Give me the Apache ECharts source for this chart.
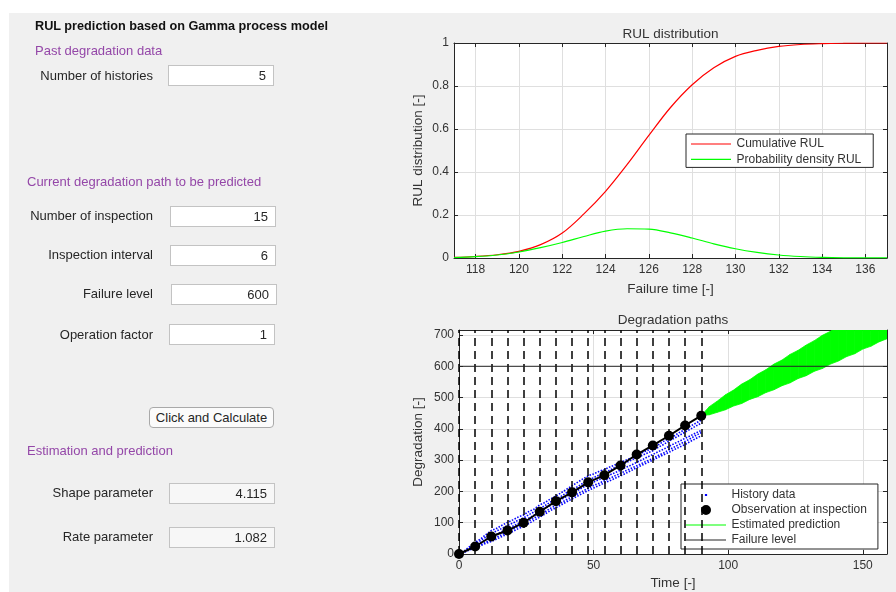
<!DOCTYPE html>
<html><head><meta charset="utf-8">
<script src="https://cdn.jsdelivr.net/npm/echarts@6/dist/echarts.min.js"></script>
<style>
html,body{margin:0;padding:0;background:#fff;width:896px;height:592px;overflow:hidden;font-family:'Liberation Sans',Arial,sans-serif;}
#panel{position:absolute;left:9px;top:13px;width:887px;height:579px;background:#f0f0f0;}
#chart{position:absolute;left:0;top:0;width:896px;height:592px;}
.t{position:absolute;font-size:13px;color:#262626;white-space:nowrap;line-height:16px;height:16px;}
.lab{left:0;width:153px;text-align:right;}
.pur{color:#9447a8;}
.box{position:absolute;box-sizing:border-box;width:106px;height:21px;background:#fff;border:1px solid #c3c3c3;font-size:13px;line-height:19px;text-align:right;padding-right:7px;color:#262626;}
.dis{background:#f7f7f7;}
.btn{position:absolute;box-sizing:border-box;left:149px;top:407px;width:125px;height:21px;border:1px solid #a9a9a9;border-radius:4px;background:#fbfbfb;font-size:13px;line-height:19px;text-align:center;color:#262626;}
</style>
</head>
<body>
<div id="panel"></div>
<div id="chart"></div>
<div class="t" style="left:35px;top:18px;font-weight:bold;font-size:12.7px;color:#111;">RUL prediction based on Gamma process model</div>
<div class="t pur" style="left:35px;top:43px;">Past degradation data</div>
<div class="t lab" style="top:68px;">Number of histories</div>
<div class="box" style="left:168px;top:65px;">5</div>
<div class="t pur" style="left:27px;top:174px;">Current degradation path to be predicted</div>
<div class="t lab" style="top:208px;">Number of inspection</div>
<div class="box" style="left:170px;top:206px;">15</div>
<div class="t lab" style="top:247px;">Inspection interval</div>
<div class="box" style="left:170px;top:245px;">6</div>
<div class="t lab" style="top:286px;">Failure level</div>
<div class="box" style="left:171px;top:284px;">600</div>
<div class="t lab" style="top:327px;">Operation factor</div>
<div class="box" style="left:169px;top:324px;">1</div>
<div class="btn">Click and Calculate</div>
<div class="t pur" style="left:27px;top:443px;">Estimation and prediction</div>
<div class="t lab" style="top:485px;">Shape parameter</div>
<div class="box dis" style="left:169px;top:483px;">4.115</div>
<div class="t lab" style="top:529px;">Rate parameter</div>
<div class="box dis" style="left:169px;top:527px;">1.082</div>
<script>
// ---- RUL distribution data ----
const failureTime = [117,118,119,120,121,122,123,124,125,126,127,128,129,130,131,132,133,134,135,136,137];
const cumulativeRUL = [0.003,0.007,0.015,0.031,0.062,0.116,0.205,0.31,0.435,0.57,0.70,0.806,0.885,0.938,0.966,0.984,0.993,0.997,0.999,1.0,1.0];
const densityRUL = [0.002,0.006,0.014,0.028,0.048,0.072,0.100,0.125,0.136,0.134,0.117,0.093,0.066,0.043,0.026,0.014,0.007,0.003,0.001,0.0005,0.0002];

// ---- Degradation paths data ----
const historyTime = [0,2,4,6,8,10,12,14,16,18,20,22,24,26,28,30,32,34,36,38,40,42,44,46,48,50,52,54,56,58,60,62,64,66,68,70,72,74,76,78,80,82,84,86,88,90];
const history1 = [0,10,24,37,48,62,75,82,92,101,109,118,125,136,144,157,165,176,185,196,207,218,229,240,250,256,264,270,278,285,292,300,307,316,324,331,340,349,360,369,378,389,398,409,418,428];
const history2 = [0,9,20,31,43,54,65,74,82,91,99,108,115,126,135,145,155,166,175,185,196,205,215,226,235,244,252,260,268,277,285,292,300,308,315,323,330,341,350,361,370,380,390,399,409,418];
const history3 = [0,8,17,27,36,46,55,63,72,80,89,97,105,115,125,134,146,155,165,174,184,193,203,213,222,230,238,245,253,260,268,277,284,293,301,310,318,327,335,344,353,361,370,378,387,395];
const history4 = [0,7,14,22,30,38,45,54,62,71,79,88,95,106,115,126,135,146,155,164,174,183,192,201,210,219,226,234,242,250,258,266,274,282,290,298,305,315,323,333,342,351,360,369,379,388];
const history5 = [0,6,13,20,27,34,40,48,56,64,72,81,88,98,108,118,128,139,148,157,167,176,185,194,203,211,219,227,234,242,250,258,267,276,284,292,300,309,317,325,334,342,350,360,369,378];
const inspectionTime = [0,6,12,18,24,30,36,42,48,54,60,66,72,78,84,90];
const observation = [0,24,56,75,100,135,169,197,229,252,283,318,347,378,411,442];
const predTime = [90,93,96,99,102,105,108,111,114,117,120,123,126,129,132,135,138,141,144,147,150,153,156,159];
const predUpper = [443,471,489,509,524,543,557,575,589,607,620,638,651,668,682,699,712,729,742,759,772,788,801,818];
const predLower = [443,445,453,461,473,481,494,503,516,525,538,547,561,570,584,593,607,617,631,640,655,664,678,688];
const failureLevel = 600;
const timeRange = [0, 159];

const FONT = "'Liberation Sans', Arial, sans-serif";
const AX = '#262626';
const GRIDC = '#dfdfdf';

function pairs(xs, ys){ return xs.map((x,i)=>[x, ys[i]]); }

function mainX(gi, min, max, opts){
  return Object.assign({
    type:'value', gridIndex:gi, min:min, max:max, position:'bottom',
    axisLine:{show:true, onZero:false, lineStyle:{color:AX, width:1}},
    axisTick:{show:true, inside:true, length:4, lineStyle:{color:AX}},
    axisLabel:{color:'#333', fontSize:12, fontFamily:FONT, margin:6, showMinLabel:true, showMaxLabel:false},
    splitLine:{show:true, lineStyle:{color:GRIDC, width:1}},
    nameLocation:'middle', nameTextStyle:{color:'#333', fontSize:13.5, fontFamily:FONT}
  }, opts);
}
function mainY(gi, min, max, opts){
  return Object.assign({
    type:'value', gridIndex:gi, min:min, max:max, position:'left',
    axisLine:{show:true, onZero:false, lineStyle:{color:AX, width:1}},
    axisTick:{show:true, inside:true, length:4, lineStyle:{color:AX}},
    axisLabel:{color:'#333', fontSize:12, fontFamily:FONT, margin:5, showMaxLabel:false},
    splitLine:{show:true, lineStyle:{color:GRIDC, width:1}},
    nameLocation:'middle', nameRotate:90, nameTextStyle:{color:'#333', fontSize:13.5, fontFamily:FONT}
  }, opts);
}
function boxAxis(gi, min, max, pos, opts){
  return Object.assign({
    type:'value', gridIndex:gi, min:min, max:max, position:pos,
    axisLine:{show:true, onZero:false, lineStyle:{color:AX, width:1}},
    axisTick:{show:true, inside:true, length:4, lineStyle:{color:AX}},
    axisLabel:{show:false}, splitLine:{show:false}
  }, opts);
}

const legendText = {fontSize:12, color:'#333', fontFamily:FONT};
const CORNERS = 'M0,0L0.01,0M40,0L40.01,0M0,10L0.01,10M40,10L40.01,10';
const lineIcon = 'path://' + CORNERS + 'M0,4.4L40,4.4L40,5.6L0,5.6Z';
const smallDot = 'path://' + CORNERS + 'M18.9,3.9L21.1,3.9L21.1,6.1L18.9,6.1Z';
const bigDot = 'path://' + CORNERS + 'M25,5A5,5,0,1,1,15,5A5,5,0,1,1,25,5Z';

const historySeries = [history1,history2,history3,history4,history5].map(h=>({
  name:'History data', type:'line', xAxisIndex:2, yAxisIndex:2,
  data: pairs(historyTime, h), symbol:'none',
  lineStyle:{color:'#0000ff', width:1.6, type:[1.5,1.5]}, itemStyle:{color:'#0000ff'}, z:3
}));

const option = {
  animation:false,
  backgroundColor:'transparent',
  textStyle:{fontFamily:FONT},
  title:[
    {text:'RUL distribution', left:670.5, top:27, textAlign:'center', padding:0,
     textStyle:{fontSize:13.5, fontWeight:'normal', color:'#333', fontFamily:FONT}},
    {text:'Degradation paths', left:673, top:313, textAlign:'center', padding:0,
     textStyle:{fontSize:13.5, fontWeight:'normal', color:'#333', fontFamily:FONT}}
  ],
  grid:[
    {left:454, top:43, width:433, height:215, show:true, backgroundColor:'#fff', borderWidth:0, containLabel:false},
    {left:459, top:330, width:428, height:224, show:true, backgroundColor:'#fff', borderWidth:0, containLabel:false}
  ],
  xAxis:[
    mainX(0, 117, 137, {splitNumber:10, name:'Failure time [-]', nameGap:24,
      axisLabel:{color:'#333', fontSize:12, fontFamily:FONT, margin:6, showMinLabel:false, showMaxLabel:false}}),
    boxAxis(0, 117, 137, 'top', {splitNumber:10}),
    mainX(1, timeRange[0], timeRange[1], {interval:50, name:'Time [-]', nameGap:22}),
    boxAxis(1, timeRange[0], timeRange[1], 'top', {interval:50})
  ],
  yAxis:[
    mainY(0, 0, 1, {interval:0.2, name:'RUL distribution [-]', nameGap:29,
      axisLabel:{color:'#333', fontSize:12, fontFamily:FONT, margin:5}}),
    boxAxis(0, 0, 1, 'right', {interval:0.2}),
    mainY(1, 0, 716, {interval:100, name:'Degradation [-]', nameGap:34}),
    boxAxis(1, 0, 716, 'right', {interval:100})
  ],
  legend:[
    {orient:'vertical', left:686, top:134, padding:[4,12,2,5], itemGap:3.4, itemWidth:41, itemHeight:10,
     backgroundColor:'#fff', borderColor:AX, borderWidth:1, borderRadius:0, selectedMode:false,
     textStyle:legendText,
     data:[
       {name:'Cumulative RUL', icon:lineIcon, itemStyle:{color:'#ff0000', borderWidth:0}},
       {name:'Probability density RUL', icon:lineIcon, itemStyle:{color:'#00ff00', borderWidth:0}}
     ]},
    {orient:'vertical', left:681, top:484, padding:[5,11,3,5], itemGap:3, itemWidth:41, itemHeight:10,
     backgroundColor:'#fff', borderColor:AX, borderWidth:1, borderRadius:0, selectedMode:false,
     textStyle:legendText,
     data:[
       {name:'History data', icon:smallDot, itemStyle:{color:'#0000ff', borderWidth:0}},
       {name:'Observation at inspection', icon:bigDot, itemStyle:{color:'#000', borderWidth:0}},
       {name:'Estimated prediction', icon:lineIcon, itemStyle:{color:'#00ff00', borderWidth:0}},
       {name:'Failure level', icon:lineIcon, itemStyle:{color:'#262626', borderWidth:0}}
     ]}
  ],
  series:[
    {name:'Cumulative RUL', type:'line', xAxisIndex:0, yAxisIndex:0, data:pairs(failureTime, cumulativeRUL),
     symbol:'none', smooth:0.35, lineStyle:{color:'#ff0000', width:1.2}, itemStyle:{color:'#ff0000'}},
    {name:'Probability density RUL', type:'line', xAxisIndex:0, yAxisIndex:0, data:pairs(failureTime, densityRUL),
     symbol:'none', smooth:0.35, lineStyle:{color:'#00ff00', width:1.2}, itemStyle:{color:'#00ff00'}},
    ...historySeries,
    {name:'Estimated prediction', type:'custom', xAxisIndex:2, yAxisIndex:2, clip:true, z:4,
     itemStyle:{color:'#00ff00'},
     data: predTime.map((t,i)=>[t, predLower[i], predUpper[i]]),
     encode:{x:0, y:[1,2]},
     renderItem:function(params, api){
       const i = params.dataIndex;
       if (i >= predTime.length - 1) return null;
       const pts = [
         api.coord([predTime[i], predLower[i]]),
         api.coord([predTime[i+1], predLower[i+1]]),
         api.coord([predTime[i+1], predUpper[i+1]]),
         api.coord([predTime[i], predUpper[i]])
       ];
       const cs = params.coordSys;
       return {type:'group', clipPath:{type:'rect', shape:{x:cs.x, y:cs.y, width:cs.width, height:cs.height}},
         children:[{type:'polygon', shape:{points:pts}, style:{fill:'#00ff00', stroke:'#00ff00', lineWidth:0.8}}]};
     }},
    {name:'Observation at inspection', type:'line', xAxisIndex:2, yAxisIndex:2, data:pairs(inspectionTime, observation),
     symbol:'circle', symbolSize:10, showSymbol:true, clip:false,
     lineStyle:{color:'#000', width:2}, itemStyle:{color:'#000', borderWidth:0}, z:6},
    {name:'Failure level', type:'line', xAxisIndex:2, yAxisIndex:2, data:[[timeRange[0],failureLevel],[timeRange[1],failureLevel]],
     symbol:'none', lineStyle:{color:'#262626', width:1}, itemStyle:{color:'#262626'}, z:5},
    {name:'inspections', type:'line', xAxisIndex:2, yAxisIndex:2, data:[], symbol:'none', z:2,
     markLine:{silent:true, symbol:['none','none'], label:{show:false},
       lineStyle:{color:'#000', width:1.5, type:[8,5]},
       data: inspectionTime.map(t=>({xAxis:t}))}}
  ]
};
const chart = echarts.init(document.getElementById('chart'), null, {renderer:'canvas'});
chart.setOption(option);
</script>
</body></html>
